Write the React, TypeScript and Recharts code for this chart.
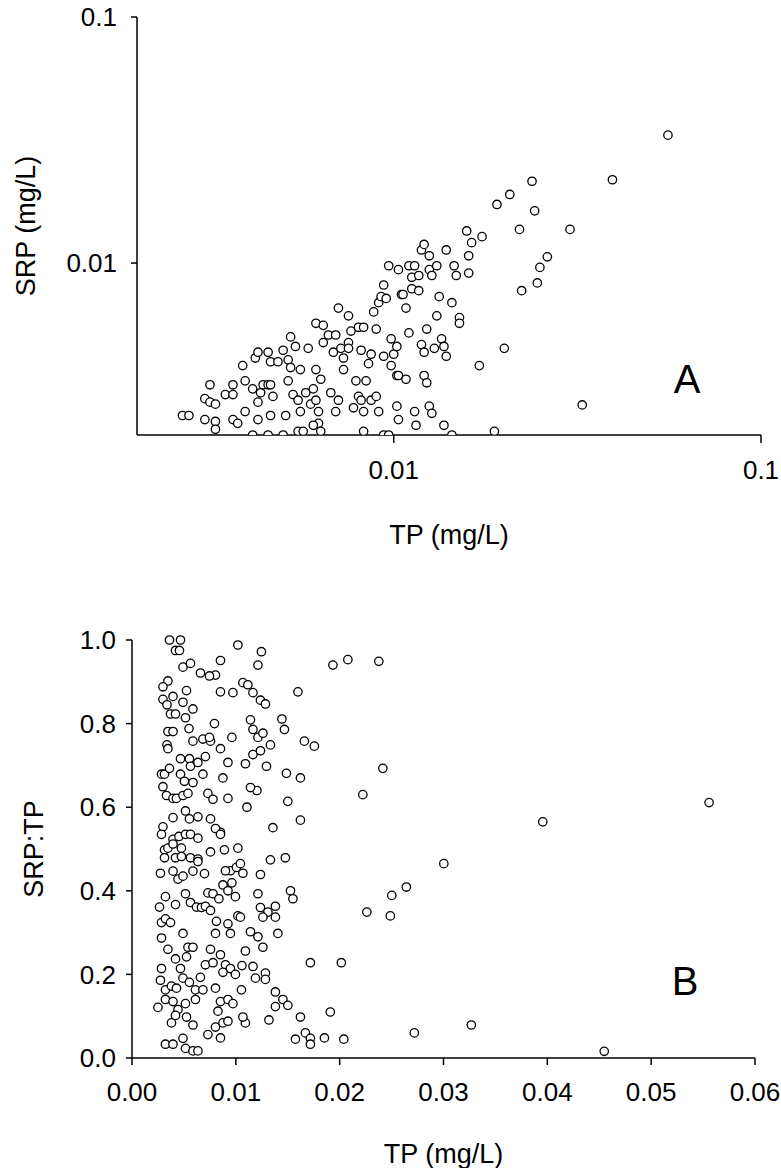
import { ScatterChart, Scatter, XAxis, YAxis } from 'recharts';

// Panel A: TP vs SRP (mg/L), log-log
const pointsA: [number, number][] = [
  [0.00266, 0.0024], [0.00277, 0.0024], [0.00316, 0.0032], [0.00306, 0.00281], [0.00316, 0.00272],
  [0.00327, 0.00267], [0.00306, 0.00231], [0.00327, 0.00227], [0.00327, 0.00211], [0.00348, 0.00292],
  [0.00365, 0.0032], [0.00365, 0.00292], [0.00365, 0.00231], [0.00376, 0.00223], [0.00388, 0.00383],
  [0.00394, 0.00332], [0.00394, 0.00249], [0.0042, 0.00411], [0.00427, 0.00434], [0.00413, 0.00308],
  [0.00427, 0.00272], [0.00434, 0.00297], [0.00441, 0.0032], [0.00455, 0.0032], [0.00462, 0.0032],
  [0.00427, 0.00231], [0.00455, 0.00434], [0.00462, 0.00397], [0.00484, 0.00397], [0.00469, 0.00287],
  [0.00462, 0.0024], [0.005, 0.00442], [0.00508, 0.0024], [0.00516, 0.00404], [0.00516, 0.00332],
  [0.00524, 0.00376], [0.00524, 0.00501], [0.0054, 0.00458], [0.00532, 0.00292], [0.00549, 0.00277],
  [0.00557, 0.00369], [0.00557, 0.00249], [0.00576, 0.00297], [0.00585, 0.0045], [0.00594, 0.00267],
  [0.00604, 0.00308], [0.00614, 0.00369], [0.00614, 0.00277], [0.00624, 0.00223], [0.00633, 0.00337],
  [0.00643, 0.00475], [0.00624, 0.00249], [0.00614, 0.00569], [0.00643, 0.00558], [0.00664, 0.0051],
  [0.00674, 0.00297], [0.00695, 0.0051], [0.00685, 0.00434], [0.00695, 0.00249], [0.00707, 0.00277],
  [0.00707, 0.00656], [0.00718, 0.0045], [0.0073, 0.00411], [0.0073, 0.00369], [0.00753, 0.00475],
  [0.00753, 0.0061], [0.00753, 0.0045], [0.00765, 0.00529], [0.00777, 0.00258], [0.00789, 0.00332],
  [0.00802, 0.00548], [0.00815, 0.00442], [0.00802, 0.00287], [0.00828, 0.00548], [0.00828, 0.00249],
  [0.00815, 0.00277], [0.00841, 0.00332], [0.00854, 0.0039], [0.00868, 0.00426], [0.00868, 0.00277],
  [0.00896, 0.00539], [0.00882, 0.00633], [0.00896, 0.00287], [0.0091, 0.00249], [0.0091, 0.0069],
  [0.00924, 0.0073], [0.00939, 0.00814], [0.00939, 0.00418], [0.00954, 0.00718], [0.00969, 0.00975],
  [0.00984, 0.00383], [0.00984, 0.00492], [0.01, 0.00426], [0.0102, 0.00458], [0.0102, 0.00349],
  [0.0102, 0.00262], [0.0103, 0.00349], [0.0103, 0.00231], [0.0103, 0.0094], [0.0105, 0.00745],
  [0.0106, 0.00745], [0.0108, 0.00656], [0.011, 0.0052], [0.0108, 0.00337], [0.011, 0.00975],
  [0.0112, 0.00875], [0.0112, 0.00786], [0.0114, 0.00975], [0.0114, 0.00249], [0.0115, 0.00219],
  [0.0117, 0.00772], [0.0117, 0.0089], [0.0119, 0.0113], [0.0119, 0.00466], [0.0121, 0.0119],
  [0.0121, 0.00434], [0.0121, 0.00349], [0.0123, 0.00539], [0.0123, 0.00326], [0.0125, 0.0094],
  [0.0125, 0.0107], [0.0125, 0.00262], [0.0127, 0.00245], [0.0127, 0.0089], [0.0129, 0.0045],
  [0.0131, 0.00975], [0.0131, 0.0061], [0.0133, 0.0073], [0.0135, 0.00492], [0.0137, 0.00458],
  [0.0139, 0.00418], [0.0139, 0.0113], [0.0137, 0.00219], [0.0144, 0.002], [0.0144, 0.0069],
  [0.0146, 0.00975], [0.0148, 0.0089], [0.0151, 0.006], [0.0151, 0.00569], [0.0158, 0.0135],
  [0.016, 0.0107], [0.016, 0.0091], [0.0163, 0.0121], [0.0171, 0.00383], [0.0174, 0.0128],
  [0.0188, 0.00207], [0.0191, 0.0173], [0.02, 0.0045], [0.0207, 0.019], [0.022, 0.0137],
  [0.0223, 0.00772], [0.0238, 0.0215], [0.0242, 0.0163], [0.0246, 0.0083], [0.025, 0.0096],
  [0.0262, 0.0106], [0.0302, 0.0137], [0.0326, 0.00265], [0.0394, 0.0218], [0.0558, 0.0331],
  [0.00939, 0.002], [0.00969, 0.002], [0.00828, 0.00207], [0.00413, 0.002], [0.00455, 0.002],
  [0.005, 0.002], [0.00549, 0.00207], [0.00567, 0.00207], [0.00633, 0.00207], [0.00604, 0.00219],
];

// Panel B: TP (mg/L) vs SRP:TP ratio
const pointsB: [number, number][] = [
  [0.00361, 1.0], [0.00467, 1.0], [0.00419, 0.975], [0.00457, 0.975], [0.00491, 0.935], [0.00563, 0.944],
  [0.00346, 0.902], [0.00298, 0.888], [0.00298, 0.858], [0.00395, 0.865], [0.00337, 0.845], [0.00371, 0.823],
  [0.00419, 0.823], [0.00525, 0.879], [0.00491, 0.851], [0.00587, 0.835], [0.00515, 0.814], [0.00549, 0.788],
  [0.00346, 0.781], [0.00395, 0.781], [0.00337, 0.749], [0.00346, 0.74], [0.00467, 0.716], [0.00553, 0.716],
  [0.00587, 0.758], [0.00284, 0.679], [0.00313, 0.679], [0.00361, 0.693], [0.00467, 0.679], [0.00505, 0.662],
  [0.00563, 0.698], [0.00298, 0.649], [0.00332, 0.628], [0.00395, 0.621], [0.00428, 0.621], [0.00491, 0.628],
  [0.00539, 0.633], [0.00587, 0.659], [0.00395, 0.575], [0.00515, 0.591], [0.00553, 0.572], [0.00298, 0.553],
  [0.00284, 0.535], [0.00395, 0.523], [0.00452, 0.53], [0.00476, 0.502], [0.00515, 0.535], [0.00563, 0.535],
  [0.00635, 0.526], [0.00313, 0.498], [0.00346, 0.502], [0.00395, 0.512], [0.00313, 0.479], [0.00419, 0.479],
  [0.00476, 0.482], [0.00563, 0.479], [0.00635, 0.476], [0.00274, 0.442], [0.00395, 0.447], [0.00443, 0.428],
  [0.00491, 0.435], [0.00587, 0.447], [0.00635, 0.47], [0.00322, 0.386], [0.00419, 0.367], [0.00515, 0.393],
  [0.00563, 0.372], [0.00621, 0.361], [0.00265, 0.361], [0.00284, 0.324], [0.00322, 0.333], [0.00371, 0.324],
  [0.00284, 0.287], [0.00346, 0.26], [0.00491, 0.298], [0.00539, 0.265], [0.00587, 0.265], [0.00419, 0.237],
  [0.00467, 0.214], [0.00525, 0.242], [0.00284, 0.214], [0.00274, 0.186], [0.00322, 0.163], [0.0038, 0.172],
  [0.00428, 0.167], [0.00491, 0.191], [0.00553, 0.181], [0.00611, 0.163], [0.0025, 0.121], [0.00322, 0.14],
  [0.00395, 0.135], [0.00443, 0.116], [0.00515, 0.13], [0.00611, 0.14], [0.0038, 0.084], [0.00419, 0.102],
  [0.00525, 0.098], [0.00587, 0.079], [0.00322, 0.033], [0.00395, 0.033], [0.00491, 0.047], [0.00515, 0.023],
  [0.00587, 0.017], [0.00635, 0.017],
  [0.00635, 0.577], [0.00683, 0.763], [0.00756, 0.758], [0.00707, 0.721], [0.00731, 0.633], [0.0078, 0.619],
  [0.00794, 0.8], [0.00746, 0.767], [0.00852, 0.74], [0.00852, 0.54], [0.00852, 0.951], [0.00804, 0.916],
  [0.00659, 0.921], [0.00746, 0.914], [0.00635, 0.707], [0.00683, 0.679], [0.00852, 0.876], [0.00924, 0.707],
  [0.00972, 0.874], [0.00962, 0.767], [0.0102, 0.988], [0.00876, 0.67], [0.00756, 0.572], [0.00804, 0.549],
  [0.00852, 0.535], [0.00924, 0.621], [0.00756, 0.493], [0.0089, 0.498], [0.00948, 0.448], [0.01006, 0.456],
  [0.009, 0.448], [0.00698, 0.441], [0.00731, 0.395], [0.0078, 0.393], [0.00837, 0.381], [0.00876, 0.414],
  [0.00924, 0.4], [0.00996, 0.386], [0.0102, 0.502], [0.00962, 0.419], [0.00669, 0.36], [0.00707, 0.363],
  [0.00756, 0.353], [0.00813, 0.327], [0.00924, 0.321], [0.00948, 0.298], [0.00804, 0.298], [0.00756, 0.26],
  [0.00852, 0.247], [0.009, 0.223], [0.00948, 0.214], [0.00707, 0.223], [0.0078, 0.228], [0.00876, 0.205],
  [0.00996, 0.2], [0.00659, 0.193], [0.00683, 0.163], [0.00804, 0.167], [0.00852, 0.135], [0.00924, 0.14],
  [0.00972, 0.13], [0.00828, 0.112], [0.00876, 0.084], [0.00804, 0.074], [0.00924, 0.088], [0.00731, 0.056],
  [0.00852, 0.048],
  [0.01068, 0.898], [0.01116, 0.893], [0.01165, 0.874], [0.01237, 0.856], [0.01285, 0.847], [0.01213, 0.94],
  [0.01246, 0.972], [0.01141, 0.809], [0.01165, 0.786], [0.01213, 0.767], [0.01261, 0.777], [0.01333, 0.749],
  [0.01165, 0.726], [0.01237, 0.735], [0.01295, 0.698], [0.01092, 0.704], [0.01107, 0.6], [0.01203, 0.64],
  [0.01141, 0.647], [0.01357, 0.551], [0.01333, 0.474], [0.01237, 0.439], [0.01044, 0.465], [0.01068, 0.442],
  [0.01213, 0.393], [0.01237, 0.36], [0.01309, 0.349], [0.01381, 0.363], [0.01381, 0.337], [0.01261, 0.337],
  [0.0102, 0.34], [0.01044, 0.337], [0.01141, 0.302], [0.01213, 0.29], [0.01261, 0.265], [0.01092, 0.256],
  [0.01059, 0.221], [0.01165, 0.219], [0.01285, 0.203], [0.01285, 0.188], [0.01054, 0.163], [0.01189, 0.191],
  [0.01381, 0.158], [0.01453, 0.14], [0.01381, 0.123], [0.01501, 0.126], [0.01319, 0.091], [0.01092, 0.084],
  [0.01068, 0.098], [0.01405, 0.298], [0.01477, 0.479], [0.01526, 0.4], [0.0155, 0.381],
  [0.01444, 0.811], [0.01468, 0.786], [0.01487, 0.681], [0.01501, 0.614], [0.01598, 0.876], [0.01622, 0.67],
  [0.01622, 0.569], [0.0166, 0.758], [0.01756, 0.746], [0.01718, 0.228], [0.01622, 0.098], [0.01574, 0.045],
  [0.0167, 0.06], [0.01718, 0.047], [0.01718, 0.033], [0.01853, 0.048], [0.0191, 0.11], [0.0204, 0.045],
  [0.02016, 0.228], [0.01935, 0.94], [0.02079, 0.953], [0.02223, 0.63], [0.02262, 0.349], [0.02377, 0.949],
  [0.02416, 0.693], [0.02488, 0.34], [0.02502, 0.389], [0.02642, 0.409], [0.02719, 0.06], [0.03003, 0.465],
  [0.03268, 0.079], [0.03956, 0.565], [0.04548, 0.016], [0.05558, 0.611],
];

const logTicks = [0.01, 0.1];
const tpTicksB = [0, 0.01, 0.02, 0.03, 0.04, 0.05, 0.06];
const ratioTicks = [0, 0.2, 0.4, 0.6, 0.8, 1.0];

const FONT = '"Liberation Sans", Arial, sans-serif';
const tickStyle = { fontSize: 26, fill: '#000', fontFamily: FONT };
const axisLine = { stroke: '#000', strokeWidth: 1.5 };

const dataA = pointsA.map(([tp, srp]) => ({ tp, srp }));
const dataB = pointsB.map(([tp, ratio]) => ({ tp, ratio }));

const OpenDot = (props: any) => (
  <circle cx={props.cx} cy={props.cy} r={4.2} fill="#fff" stroke="#000" strokeWidth={1.3} />
);

const yTitle = (text: string, x: number) => (props: any) => {
  const vb = props.viewBox;
  const cy = vb.y + vb.height / 2;
  return (
    <text x={x} y={cy} transform={`rotate(-90, ${x}, ${cy})`} textAnchor="middle" dominantBaseline="central"
      fontSize={27} fontFamily={FONT} fill="#000">{text}</text>
  );
};

const xTitle = (text: string, dy: number) => (props: any) => {
  const vb = props.viewBox;
  return (
    <text x={vb.x + vb.width / 2} y={vb.y + dy} textAnchor="middle" dominantBaseline="central"
      fontSize={27} fontFamily={FONT} fill="#000">{text}</text>
  );
};

const panelLetter = (letter: string, left: number, top: number) => (
  <div style={{ position: 'absolute', left, top, fontFamily: FONT, fontSize: 40, lineHeight: '40px', transform: 'translate(-50%, -50%)' }}>
    {letter}
  </div>
);

export default function App() {
  return (
    <div style={{ position: 'absolute', left: 0, top: 0, width: 781, height: 1168, background: '#fff' }}>
      <ScatterChart width={781} height={560} margin={{ top: 17, right: 20, bottom: 0, left: 0 }}>
        <XAxis type="number" dataKey="tp" scale="log" domain={[0.002, 0.1]} ticks={logTicks} allowDataOverflow
          tickFormatter={(v: number) => String(v)} tick={tickStyle} axisLine={axisLine} tickLine={axisLine}
          tickSize={8} tickMargin={18} height={125} label={{ content: xTitle('TP (mg/L)', 100) }} />
        <YAxis type="number" dataKey="srp" scale="log" domain={[0.002, 0.1]} ticks={logTicks} allowDataOverflow
          tickFormatter={(v: number) => String(v)} tick={tickStyle} axisLine={axisLine} tickLine={axisLine}
          tickSize={6} tickMargin={14} width={137} label={{ content: yTitle('SRP (mg/L)', 26) }} />
        <Scatter data={dataA} shape={OpenDot} isAnimationActive={false} />
      </ScatterChart>
      <ScatterChart width={781} height={608} margin={{ top: 80, right: 26, bottom: 0, left: 0 }}>
        <XAxis type="number" dataKey="tp" domain={[0, 0.06]} ticks={tpTicksB}
          tickFormatter={(v: number) => v.toFixed(2)} tick={tickStyle} axisLine={axisLine} tickLine={axisLine}
          tickSize={7} tickMargin={18} height={110} label={{ content: xTitle('TP (mg/L)', 96) }} />
        <YAxis type="number" dataKey="ratio" domain={[0, 1]} ticks={ratioTicks}
          tickFormatter={(v: number) => v.toFixed(1)} tick={tickStyle} axisLine={axisLine} tickLine={axisLine}
          tickSize={6} tickMargin={10} width={132} label={{ content: yTitle('SRP:TP', 34) }} />
        <Scatter data={dataB} shape={OpenDot} isAnimationActive={false} />
      </ScatterChart>
      {panelLetter('A', 687, 379)}
      {panelLetter('B', 685, 981)}
    </div>
  );
}
